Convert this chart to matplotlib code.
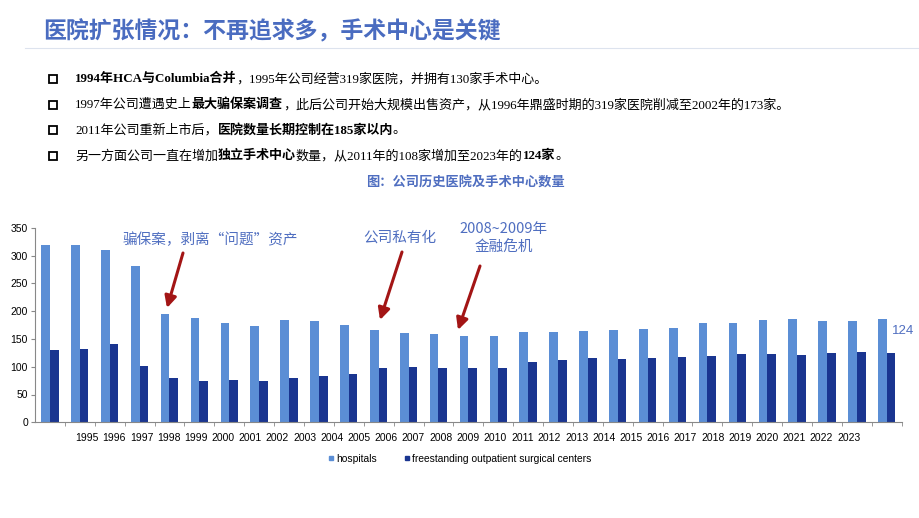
import matplotlib
matplotlib.use("Agg")
import matplotlib.pyplot as plt
from matplotlib.lines import Line2D
from matplotlib.patches import Rectangle
import numpy as np

plt.rcParams["font.family"] = ["Liberation Sans", "Noto Sans CJK SC", "DejaVu Sans"]

# data (1995..2023)
years = list(range(1995, 2024))
hospitals = [319, 319, 309, 281, 195, 187, 178, 173, 184, 182, 175, 166, 161, 158,
             155, 156, 163, 163, 165, 166, 168, 170, 179, 179, 184, 185, 182, 182, 186]
surgical = [130, 132, 140, 102, 80, 75, 76, 74, 79, 84, 87, 98, 99, 97,
            97, 97, 108, 112, 115, 113, 116, 118, 120, 123, 123, 121, 125, 127, 124]

title = "医院扩张情况：不再追求多，手术中心是关键"
bullets = [
    [("1994年HCA与Columbia合并", True), ("，1995年公司经营319家医院，并拥有130家手术中心。", False)],
    [("1997年公司遭遇史上", False), ("最大骗保案调查", True),
     ("，此后公司开始大规模出售资产，从1996年鼎盛时期的319家医院削减至2002年的173家。", False)],
    [("2011年公司重新上市后，", False), ("医院数量长期控制在185家以内", True), ("。", False)],
    [("另一方面公司一直在增加", False), ("独立手术中心", True),
     ("数量，从2011年的108家增加至2023年的", False), ("124家", True), ("。", False)],
]
caption = "图：公司历史医院及手术中心数量"

BLUE_LIGHT = "#5B8ED5"
BLUE_DARK = "#1A3590"
TXT_BLUE = "#4F6EC0"
ARROW = "#A31515"
CJK_SERIF = ["Liberation Serif", "Noto Sans CJK SC"]

fig = plt.figure(figsize=(9.2, 5.18), dpi=100)
W, H = 920, 518


def fx(px):
    return px / W


def fy(py):
    return 1 - py / H


# title + rule
fig.text(fx(43), fy(32), title, fontsize=16.5, fontweight="bold", color="#4A6CC0",
         family=["Noto Sans CJK SC"], va="center", ha="left")
fig.add_artist(Line2D([fx(25), fx(920)], [fy(48), fy(48)], color="#DDE3EE", lw=0.8))

# bullet lines with mixed bold segments
fig.canvas.draw()
renderer = fig.canvas.get_renderer()
for i, segs in enumerate(bullets):
    y = 79 + i * 25.7
    fig.add_artist(Rectangle((fx(49), fy(y + 4)), fx(8), 8 / H, fill=False,
                             lw=1.3, edgecolor="black", transform=fig.transFigure))
    x = 75
    for text, bold in segs:
        t = fig.text(fx(x), fy(y), text, fontsize=9.4, family=CJK_SERIF,
                     fontweight="bold" if bold else "normal", va="center", ha="left")
        bb = t.get_window_extent(renderer)
        x += bb.width

fig.text(fx(465), fy(183), caption, fontsize=9.5, fontweight="bold", color=TXT_BLUE,
         family=["Noto Sans CJK SC"], ha="center", va="center")

# bar chart
ax = fig.add_axes([fx(35), fy(422.3), fx(901.7 - 35), (422.3 - 227.7) / H])
idx = np.arange(len(years))
bw = 0.29
ax.bar(idx - bw / 2, hospitals, bw, color=BLUE_LIGHT, label="hospitals")
ax.bar(idx + bw / 2, surgical, bw, color=BLUE_DARK, label="freestanding outpatient surgical centers")
ax.set_xlim(-0.5, len(years) - 0.5)
ax.set_ylim(0, 350)
ax.set_yticks(range(0, 351, 50))
ax.tick_params(axis="y", labelsize=7.5, length=3, color="#888888", pad=2)

# year labels sit evenly spread, a bit off the bar groups as in the source
ax.set_xticks(np.linspace(1.24, 26.73, len(years)))
ax.set_xticklabels([str(y) for y in years], fontsize=7.5)
ax.tick_params(axis="x", length=0, pad=8)
ax.set_xticks(idx + 0.5, minor=True)
ax.tick_params(axis="x", which="minor", length=3, color="#888888")

for side in ["top", "right"]:
    ax.spines[side].set_visible(False)
ax.spines["left"].set_color("#888888")
ax.spines["bottom"].set_color("#888888")

ax.text(len(years) - 0.82, 164, str(surgical[-1]), fontsize=9.5, color=TXT_BLUE,
        ha="left", va="center", clip_on=False)

# annotations
notes = [
    ("骗保案，剥离“问题”资产", (210, 240), (183, 253), (167, 308)),
    ("公司私有化", (400, 238), (402, 252), (380, 320)),
    ("2008~2009年\n金融危机", (504, 238), (480, 266), (458, 330)),
]
for text, (tx, ty), (x0, y0), (x1, y1) in notes:
    fig.text(fx(tx), fy(ty), text, fontsize=10.5, color=TXT_BLUE, ha="center", va="center",
             family=["Noto Sans CJK SC"], linespacing=1.35)
    fig.add_artist(plt.Annotation("", xy=(fx(x1), fy(y1)), xytext=(fx(x0), fy(y0)),
                                  xycoords="figure fraction", textcoords="figure fraction",
                                  arrowprops=dict(arrowstyle="-|>,head_length=0.7,head_width=0.35",
                                                  color=ARROW, lw=2.2, shrinkA=0, shrinkB=0)))

handles = [Line2D([], [], marker="s", ls="none", color=BLUE_LIGHT, markersize=3.5),
           Line2D([], [], marker="s", ls="none", color=BLUE_DARK, markersize=3.5)]
fig.legend(handles, ["hospitals", "freestanding outpatient surgical centers"],
           loc="center", bbox_to_anchor=(fx(459), fy(459)), ncol=2, frameon=False,
           fontsize=7.4, handletextpad=0.0, columnspacing=2.4, handlelength=1.0)

fig.savefig("out.png", dpi=100)
